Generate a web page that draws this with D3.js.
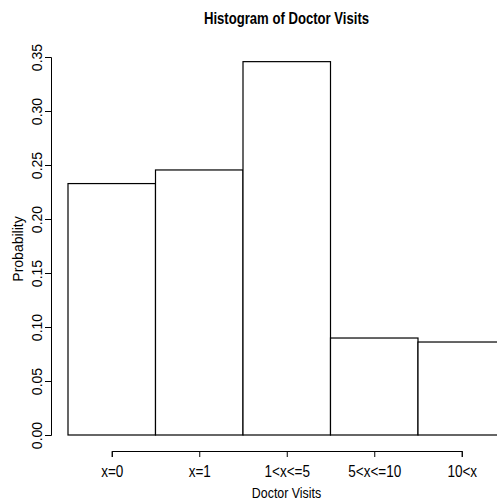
<!DOCTYPE html>
<html lang="en">
<head>
  <meta charset="UTF-8">
  <title>Histogram of Doctor Visits</title>
  <style>
    body { margin: 0; background: #fff; }
    .narrow { font-family: "Liberation Sans Narrow", "Liberation Sans", Arial, sans-serif; }
    .reg { font-family: "Liberation Sans", Arial, sans-serif; }
  </style>
  <script src="https://d3js.org/d3.v7.min.js"></script>
</head>
<body>
  <svg id="hist" width="497" height="502"></svg>
  <script>
    const categories = ["x=0", "x=1", "1<x<=5", "5<x<=10", "10<x"];
    const probs = [0.2328, 0.2454, 0.3457, 0.0898, 0.0861];
    const yTicks = [0, 0.05, 0.10, 0.15, 0.20, 0.25, 0.30, 0.35];

    const svg = d3.select("svg#hist");
    const plot = { left: 68, right: 505.5, top: 57, bottom: 435 };
    const squeeze = 0.82; // fake a narrow Helvetica

    const xScale = d3.scaleBand()
      .domain(categories)
      .range([plot.left, plot.right])
      .padding(0);

    const yScale = d3.scaleLinear()
      .domain([0, 0.35])
      .range([plot.bottom, plot.top]);

    // bars
    svg.append("g").selectAll("rect")
      .data(categories)
      .join("rect")
      .attr("x", d => xScale(d))
      .attr("y", (d, i) => yScale(probs[i]))
      .attr("width", xScale.bandwidth())
      .attr("height", (d, i) => yScale(0) - yScale(probs[i]))
      .attr("fill", "white")
      .attr("stroke", "black")
      .attr("stroke-width", 1.2);

    // x axis at bar centres
    const half = xScale.bandwidth() / 2;
    const xPoint = d3.scalePoint()
      .domain(categories)
      .range([xScale(categories[0]) + half, xScale(categories[categories.length - 1]) + half]);

    const xAxis = svg.append("g")
      .attr("class", "narrow")
      .attr("transform", "translate(0,451)")
      .call(d3.axisBottom(xPoint).tickSizeOuter(0).tickSize(6).tickPadding(8));
    xAxis.selectAll("text")
      .attr("font-size", 16.5)
      .attr("fill", "black")
      .attr("transform", `scale(${squeeze},1)`);
    xAxis.selectAll("line, path").attr("stroke", "black");

    // y axis
    const yAxis = svg.append("g")
      .attr("class", "reg")
      .attr("transform", "translate(51,0)")
      .call(d3.axisLeft(yScale).tickValues(yTicks).tickFormat(d3.format(".2f")).tickSizeOuter(0).tickSize(6));
    yAxis.selectAll("line, path").attr("stroke", "black");
    yAxis.selectAll("text")
      .attr("font-size", 14)
      .attr("fill", "black")
      .attr("text-anchor", "middle")
      .attr("x", null)
      .attr("dy", "0")
      .attr("transform", "translate(-9,0) rotate(-90)");

    // titles
    svg.append("text")
      .attr("class", "narrow")
      .attr("transform", `translate(286.5,24) scale(${squeeze},1)`)
      .attr("text-anchor", "middle")
      .attr("font-weight", "bold")
      .attr("font-size", 16)
      .text("Histogram of Doctor Visits");

    svg.append("text")
      .attr("class", "narrow")
      .attr("transform", "translate(286.5,498) scale(0.8,1)")
      .attr("text-anchor", "middle")
      .attr("font-size", 15.5)
      .text("Doctor Visits");

    svg.append("text")
      .attr("class", "reg")
      .attr("transform", "translate(23,249) rotate(-90)")
      .attr("text-anchor", "middle")
      .attr("font-size", 14)
      .text("Probability");
  </script>
</body>
</html>
